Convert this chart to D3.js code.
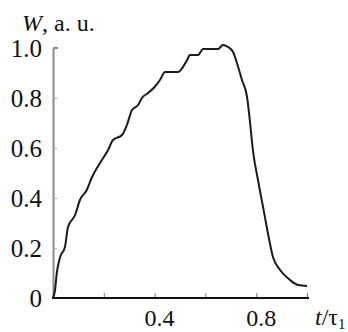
<!DOCTYPE html>
<html>
<head>
<meta charset="utf-8">
<script src="https://cdn.jsdelivr.net/npm/d3@7"></script>
<style>
    body { margin: 0; background: #fff; }
    svg { display: block; }
</style>
</head>
<body>
<div id="chart"></div>
<script>
// pulse shape
const tValues = [0, 0.008, 0.015, 0.028, 0.047, 0.059, 0.087, 0.106, 0.133, 0.152, 0.185, 0.217,
    0.236, 0.272, 0.291, 0.311, 0.335, 0.35, 0.374, 0.40, 0.421, 0.441, 0.492, 0.528, 0.539,
    0.571, 0.591, 0.65, 0.669, 0.689, 0.709, 0.724, 0.744, 0.764, 0.776, 0.787, 0.807, 0.827,
    0.846, 0.866, 0.894, 0.933, 0.965, 1.0];
const wValues = [0, 0.032, 0.10, 0.164, 0.204, 0.284, 0.332, 0.392, 0.432, 0.48, 0.54, 0.592,
    0.632, 0.652, 0.692, 0.752, 0.772, 0.80, 0.82, 0.844, 0.872, 0.904, 0.904, 0.952, 0.972,
    0.972, 0.996, 0.996, 1.012, 1.004, 0.984, 0.94, 0.872, 0.804, 0.70, 0.592, 0.472, 0.364,
    0.26, 0.164, 0.112, 0.072, 0.052, 0.048];

const yTicks = [0, 0.2, 0.4, 0.6, 0.8, 1.0];
const yTickLabels = ["0", "0.2", "0.4", "0.6", "0.8", "1.0"];
const xTicks = [0.2, 0.4, 0.6, 0.8, 1.0];
const xTickLabels = ["", "0.4", "", "0.8", ""];

const serif = '"Liberation Serif", Tinos, "DejaVu Serif", serif';

const margin = { top: 48, right: 41, bottom: 34, left: 53 },
      width = 348 - margin.left - margin.right,
      height = 332 - margin.top - margin.bottom;

const svg = d3.select("#chart")
    .append("svg")
    .attr("width", 348)
    .attr("height", 332)
    .attr("font-family", serif);

const g = svg.append("g")
    .attr("transform", "translate(" + margin.left + "," + margin.top + ")");

const x = d3.scaleLinear().domain([0, 1]).range([0, width]);
const y = d3.scaleLinear().domain([0, 1]).range([height, 0]);

// y axis: grey line, short inward ticks
const yAxis = g.append("g")
    .call(d3.axisRight(y).tickValues(yTicks).tickSize(4).tickFormat("").tickSizeOuter(0));
yAxis.select(".domain").attr("stroke", "#8a8a8a").attr("stroke-width", 2);
yAxis.selectAll(".tick line").attr("stroke", "#aaa").attr("stroke-width", 1);

g.append("line")
    .attr("x1", 0).attr("x2", 5)
    .attr("y1", y(1)).attr("y2", y(1))
    .attr("stroke", "#8a8a8a").attr("stroke-width", 2);

g.selectAll(".ylab")
    .data(yTicks)
    .enter()
    .append("text")
    .attr("class", "ylab")
    .attr("x", -11)
    .attr("y", d => y(d))
    .attr("dy", "0.36em")
    .attr("text-anchor", "end")
    .attr("font-family", serif)
    .attr("font-size", 25)
    .attr("fill", "#111")
    .text((d, i) => yTickLabels[i]);

// x axis: black line, upward ticks
const xAxis = g.append("g")
    .attr("transform", "translate(0," + height + ")")
    .call(d3.axisTop(x).tickValues(xTicks).tickSize(5).tickFormat("").tickSizeOuter(0));
xAxis.select(".domain").remove();
xAxis.selectAll(".tick line").attr("stroke", "#777").attr("stroke-width", 1);

g.append("line")
    .attr("x1", -1).attr("x2", x(1) + 2)
    .attr("y1", height).attr("y2", height)
    .attr("stroke", "#111").attr("stroke-width", 2);

g.selectAll(".xlab")
    .data(xTicks)
    .enter()
    .append("text")
    .attr("class", "xlab")
    .attr("x", d => x(d) + 5)
    .attr("y", height + 28)
    .attr("text-anchor", "middle")
    .attr("font-family", serif)
    .attr("font-size", 24)
    .attr("fill", "#111")
    .text((d, i) => xTickLabels[i]);

// axis titles
const yTitle = svg.append("text")
    .attr("x", 22)
    .attr("y", 31)
    .attr("font-family", serif)
    .attr("font-size", 24)
    .attr("fill", "#111");
yTitle.append("tspan").attr("font-style", "italic").text("W");
yTitle.append("tspan").text(", a. u.");

const xTitle = svg.append("text")
    .attr("x", 315)
    .attr("y", 325)
    .attr("font-family", serif)
    .attr("font-size", 24)
    .attr("fill", "#111");
xTitle.append("tspan").attr("font-style", "italic").text("t");
xTitle.append("tspan").text("/τ");
xTitle.append("tspan").attr("dy", 4).attr("font-size", 15).text("1");

// curve
const pts = tValues.map((t, i) => ({ t: t, w: wValues[i] }));
const line = d3.line()
    .x(d => x(d.t))
    .y(d => y(d.w))
    .curve(d3.curveMonotoneX);

g.append("path")
    .datum(pts)
    .attr("fill", "none")
    .attr("stroke", "#1a1a1a")
    .attr("stroke-width", 2)
    .attr("d", line);
</script>
</body>
</html>
